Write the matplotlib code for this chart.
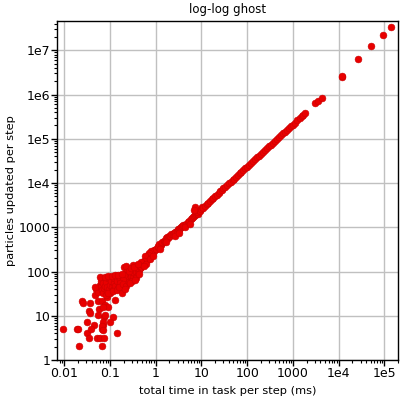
import matplotlib
matplotlib.use('Agg')
import matplotlib.pyplot as plt

# small timings: the noisy cloud at the bottom left
low_time = [0.0095, 0.0187, 0.020, 0.021, 0.025, 0.026, 0.032, 0.031, 0.034, 0.034,
            0.036, 0.036, 0.047, 0.045, 0.038, 0.059, 0.054, 0.066, 0.078, 0.074,
            0.071, 0.066, 0.052, 0.062, 0.075, 0.068, 0.118, 0.144, 0.13, 0.091,
            0.085, 0.1, 0.071, 0.066, 0.071, 0.055, 0.078, 0.071]
low_particles = [4.9, 4.9, 4.9, 2.1, 22, 19.5, 7.1, 4.1, 3.1, 13,
                 11.4, 19.7, 29.5, 6.2, 4.9, 14, 21.5, 22, 17.5, 9.3,
                 6.2, 4.9, 3.1, 3.1, 3.1, 2.1, 9.3, 4.1, 23, 16,
                 27, 7.2, 7.3, 5.9, 4.8, 10.4, 10.4, 16]

# the band between 0.05 and 1 ms
mid_time = [0.05, 0.055, 0.06, 0.062, 0.065, 0.068, 0.07, 0.072, 0.075, 0.078,
            0.08, 0.082, 0.085, 0.088, 0.09, 0.095, 0.1, 0.1, 0.105, 0.11,
            0.115, 0.12, 0.125, 0.13, 0.14, 0.15, 0.16, 0.17, 0.18, 0.06,
            0.078, 0.092, 0.11, 0.13, 0.15, 0.2, 0.23, 0.32, 0.45, 0.047,
            0.09, 0.118, 0.14, 0.18,
            0.95, 0.9, 0.88, 0.85, 0.8, 0.78, 0.75, 0.72, 0.7, 0.68,
            0.65, 0.63, 0.6, 0.58, 0.56, 0.55, 0.52, 0.5, 0.48, 0.46,
            0.45, 0.43, 0.42, 0.4, 0.38, 0.36, 0.35, 0.33, 0.3, 0.3,
            0.28, 0.27, 0.25, 0.24, 0.23, 0.22, 0.21, 0.2, 0.19, 0.18,
            0.17, 0.26, 0.29, 0.34, 0.41,
            0.16, 0.19, 0.22, 0.26, 0.31, 0.37, 0.44, 0.21, 0.28, 0.35,
            0.62, 0.74, 0.86, 0.55]
mid_particles = [40, 35, 50, 45, 60, 38, 55, 32, 42, 48,
                 30, 58, 36, 45, 70, 40, 33, 50, 60, 45,
                 38, 55, 70, 48, 60, 42, 75, 65, 50, 74,
                 74, 78, 80, 82, 85, 128, 133, 140, 118, 45,
                 33, 36, 38, 32,
                 300, 310, 260, 280, 250, 290, 230, 260, 210, 240,
                 200, 180, 190, 220, 160, 175, 150, 140, 165, 130,
                 120, 110, 95, 100, 85, 110, 90, 80, 100, 75,
                 90, 70, 95, 80, 60, 100, 75, 85, 65, 90,
                 55, 105, 120, 125, 150,
                 45, 52, 48, 58, 62, 70, 88, 40, 55, 65,
                 150, 190, 230, 130]

# the main diagonal from 1 ms upward
main_time = [1.0, 1.1, 1.15, 1.2, 1.3, 1.35, 1.4, 1.5, 1.6, 1.7,
             1.8, 1.9, 2.0, 2.1, 2.2, 2.4, 2.5, 2.7, 2.9, 3.0,
             3.2, 3.4, 3.6, 3.8, 4.0, 4.3, 4.6, 5.0, 5.4, 5.8,
             6.2, 6.6, 7.0, 7.3, 7.6, 8.0, 8.3, 8.6, 9.0, 9.4,
             9.8, 7.2, 6.8, 1.25, 1.7, 2.6, 3.3, 4.4, 5.6,
             10.5, 11, 12, 13, 14, 15.5, 17, 18, 20, 22,
             24, 26, 28, 30, 33, 36, 40, 44, 48, 52,
             57, 62, 68, 75, 82, 90, 100, 110, 120, 135,
             150, 165, 180, 200, 220, 245, 270, 300, 330, 360,
             400, 450, 500, 560, 620, 680, 750, 830, 920, 1000,
             1100, 1250, 1400, 1550, 1700, 1850,
             3000, 3550, 4300, 11700, 12000, 27000, 51000, 91000, 136000]
main_particles = [330, 350, 380, 420, 400, 450, 470, 500, 480, 560,
                  600, 580, 640, 620, 700, 720, 760, 800, 820, 900,
                  880, 950, 1000, 1050, 1100, 1150, 1200, 1350, 1400, 1500,
                  1600, 1700, 1800, 1900, 2000, 2100, 2000, 2200, 2400, 2300,
                  2600, 2900, 2400, 330, 470, 640, 760, 1000, 1200,
                  2900, 2700, 3100, 3300, 3600, 3900, 4300, 4600, 5000, 5400,
                  5900, 6500, 7000, 7600, 8200, 8900, 9800, 10500, 11800, 12500,
                  13800, 15000, 16500, 18000, 19500, 21500, 23500, 26000, 28000, 32000,
                  35000, 38000, 41000, 46000, 50000, 56000, 61000, 68000, 74000, 80000,
                  88000, 98000, 108000, 120000, 133000, 145000, 160000, 175000, 192000, 210000,
                  230000, 260000, 290000, 320000, 345000, 375000,
                  660000, 710000, 830000, 2500000, 2600000, 6300000, 12500000, 21900000, 33000000]

x_ticks = [0.01, 0.1, 1, 10, 100, 1000, 1e4, 1e5]
x_labels = ['0.01', '0.1', '1', '10', '100', '1000', '1e4', '1e5']
y_ticks = [1, 10, 100, 1000, 1e4, 1e5, 1e6, 1e7]
y_labels = ['1', '10', '100', '1000', '1e4', '1e5', '1e6', '1e7']

fig = plt.figure(figsize=(4, 4), dpi=100)
ax = fig.add_axes([0.143, 0.1, 0.853, 0.8475])

x = low_time + mid_time + main_time
y = low_particles + mid_particles + main_particles
ax.scatter(x, y, s=24, c='#e80000', edgecolors='#cc0000', linewidths=0.4, zorder=3)

ax.set_xscale('log')
ax.set_yscale('log')
ax.set_xlim(0.00703, 2.02e5)
ax.set_ylim(1, 4.6e7)
ax.set_xticks(x_ticks)
ax.set_xticklabels(x_labels)
ax.set_yticks(y_ticks)
ax.set_yticklabels(y_labels)
ax.tick_params(which='major', direction='out', length=4, width=1, labelsize=9, pad=1)
ax.tick_params(which='minor', direction='out', length=2, width=0.8)
ax.grid(True, which='major', color='#c0c0c0', linewidth=1, zorder=0)
ax.set_axisbelow(True)
for s in ax.spines.values():
    s.set_linewidth(1)

ax.set_title('log-log ghost', fontsize=8.5, pad=6)
ax.set_xlabel('total time in task per step (ms)', fontsize=8.2, labelpad=4)
ax.set_ylabel('particles updated per step', fontsize=8.2, labelpad=2)

fig.savefig('out.png', dpi=100)
